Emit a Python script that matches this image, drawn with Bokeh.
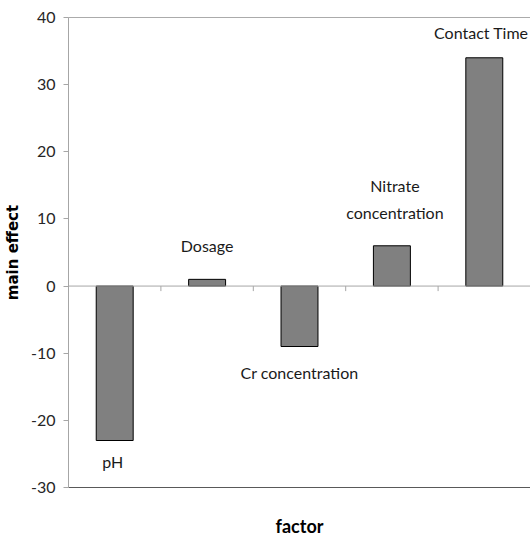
import numpy as np
from bokeh.plotting import figure
from bokeh.models import Range1d, Span, LinearAxis, FixedTicker, ColumnDataSource
from bokeh.core.properties import value
from bokeh.embed import file_html
from bokeh.resources import INLINE

# ---- data ----
factors = ["pH", "Dosage", "Cr concentration", "Nitrate\nconcentration", "Contact Time"]
main_effect = [-23, 1, -9, 6, 34]
y_ticks = [-30, -20, -10, 0, 10, 20, 30, 40]

# ---- label placement (screen pixels) ----
label_dy = [21, -34, 26, -47, -25]
label_dx = [-2, 0, 0, 3, -3]

FONT = "Lato"

n = len(factors)
xs = np.arange(n) + 0.5

p = figure(width=530, height=539, output_backend="svg", toolbar_location=None,
           x_range=Range1d(0, n), y_range=Range1d(min(y_ticks), max(y_ticks)),
           x_axis_location=None, y_axis_location=None,
           min_border_left=68, min_border_right=0, min_border_top=17, min_border_bottom=51)
p.outline_line_color = None
p.xgrid.visible = False
p.ygrid.visible = False
p.background_fill_color = "white"
p.border_fill_color = "white"

# left axis
yax = LinearAxis(ticker=FixedTicker(ticks=y_ticks))
yax.major_label_overrides = {t: str(t) for t in y_ticks}
yax.axis_line_color = "#a6a6a6"
yax.major_tick_line_color = "#a6a6a6"
yax.major_tick_in = 0
yax.major_tick_out = 5
yax.minor_tick_line_color = None
yax.major_label_standoff = 8
yax.major_label_text_font = FONT
yax.major_label_text_font_size = "16px"
yax.major_label_text_color = "#262626"
yax.axis_label = "main effect"
yax.axis_label_text_font = "DejaVu Sans"
yax.axis_label_text_font_style = "bold"
yax.axis_label_text_font_size = "15px"
yax.axis_label_text_color = "black"
yax.axis_label_standoff = 6
p.add_layout(yax, "left")

# bottom axis (frame bottom line + title)
xax = LinearAxis(ticker=FixedTicker(ticks=[]))
xax.axis_line_color = "#595959"
xax.major_tick_line_color = None
xax.minor_tick_line_color = None
xax.major_label_text_color = None
xax.axis_label = "factor"
xax.axis_label_text_font = FONT
xax.axis_label_text_font_style = "bold"
xax.axis_label_text_font_size = "18px"
xax.axis_label_text_color = "black"
xax.axis_label_standoff = 27
p.add_layout(xax, "below")

# top line
p.add_layout(Span(location=max(y_ticks), dimension="width", line_color="#595959", line_width=1))
# zero line
p.add_layout(Span(location=0, dimension="width", line_color="#a6a6a6", line_width=1))

# category boundary ticks on zero line
bounds = np.arange(1, n)
p.segment(x0=bounds, x1=bounds, y0=0, y1=-0.75, line_color="#a6a6a6", line_width=1)

src = ColumnDataSource(dict(x=xs, top=main_effect, label=factors, dy=label_dy, dx=label_dx))
p.vbar(x="x", top="top", bottom=0, width=0.4, source=src,
       fill_color="#808080", line_color="black", line_width=1)

p.text(x="x", y="top", text="label", source=src, x_offset="dx", y_offset="dy",
       text_align="center", text_baseline="middle",
       text_font=value(FONT), text_font_size="16px", text_color="#1a1a1a",
       text_line_height=1.45)

open("out.html", "w").write(file_html(p, INLINE))
